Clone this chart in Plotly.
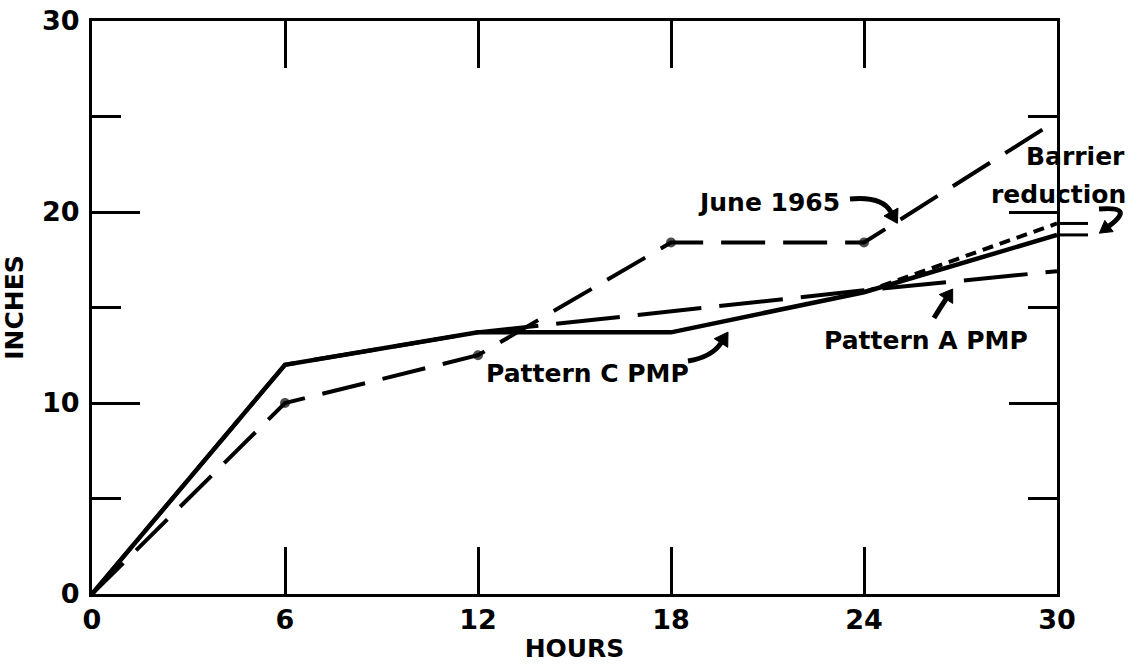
import plotly.graph_objects as go

# Accumulated rainfall (inches) against duration (hours)
hours = [0, 6, 12, 18, 24, 30]
pattern_c_pmp = [0, 12.0, 13.7, 13.7, 15.8, 18.8]
june_1965 = [0, 10.0, 12.5, 18.4, 18.4, 24.8]
pattern_a_hours = [0, 6, 12, 24, 30]
pattern_a_pmp = [0, 12.0, 13.7, 15.9, 16.9]
barrier_hours = [24, 30]
barrier_reduction = [15.8, 19.4]

x_ticks = [0, 6, 12, 18, 24, 30]
y_ticks = [0, 10, 20, 30]
y_minor_ticks = [5, 15, 25]

W, H = 1131, 664
L, R, T, B = 92, 1057, 21, 594
FONT = "DejaVu Sans"
INK = "black"


def P(px, py):
    """Pixel position on the page -> paper coordinates."""
    return (px - L) / (R - L), (B - py) / (B - T)


def arrow(tail, ctrl, end, head_len=13, head_w=8, width=5):
    """Curved arrow: quadratic stroke plus a filled head."""
    dx, dy = end[0] - ctrl[0], end[1] - ctrl[1]
    n = (dx * dx + dy * dy) ** 0.5
    ux, uy = dx / n, dy / n
    tip = (end[0] + ux * head_len, end[1] + uy * head_len)
    b1 = (end[0] - uy * head_w, end[1] + ux * head_w)
    b2 = (end[0] + uy * head_w, end[1] - ux * head_w)
    t, c, e = P(*tail), P(*ctrl), P(*end)
    body = dict(type="path", xref="paper", yref="paper",
                path=f"M {t[0]},{t[1]} Q {c[0]},{c[1]} {e[0]},{e[1]}",
                line=dict(color=INK, width=width))
    p1, p2, p3 = P(*tip), P(*b1), P(*b2)
    head = dict(type="path", xref="paper", yref="paper",
                path=f"M {p1[0]},{p1[1]} L {p2[0]},{p2[1]} L {p3[0]},{p3[1]} Z",
                fillcolor=INK, line=dict(color=INK, width=1))
    return [body, head]


fig = go.Figure()

fig.add_trace(go.Scatter(
    x=pattern_a_hours, y=pattern_a_pmp, mode="lines", name="Pattern A PMP",
    line=dict(color=INK, width=4, dash="64px,18px")))

fig.add_trace(go.Scatter(
    x=hours, y=june_1965, mode="lines+markers", name="June 1965",
    line=dict(color=INK, width=4, dash="44px,18px"),
    marker=dict(color=INK, size=[0, 10, 10, 10, 10, 0],
                line=dict(width=0))))

fig.add_trace(go.Scatter(
    x=barrier_hours, y=barrier_reduction, mode="lines", name="Barrier reduction",
    line=dict(color=INK, width=4, dash="11px,7px")))

fig.add_trace(go.Scatter(
    x=hours, y=pattern_c_pmp, mode="lines", name="Pattern C PMP",
    line=dict(color=INK, width=4.5)))

shapes = []
# bracket stubs for the barrier reduction, right of the frame
for v in (barrier_reduction[-1], pattern_c_pmp[-1]):
    shapes.append(dict(type="line", xref="paper", yref="y",
                       x0=1.0, x1=P(1088, 0)[0], y0=v, y1=v,
                       line=dict(color=INK, width=3)))

shapes += arrow((850, 199), (882, 196), (891, 212))       # June 1965
shapes += arrow((688, 361), (712, 357), (721, 343))       # Pattern C PMP
shapes += arrow((934, 318), (940, 308), (946, 299), head_len=12)  # Pattern A PMP
shapes += arrow((1099, 209), (1136, 206), (1109, 226), head_len=12, head_w=7)  # Barrier

ann_font = dict(family=FONT, size=25, color=INK, weight="bold")
annotations = []
for text, px, py, anchor in [
    ("June 1965", 769, 202, "center"),
    ("Pattern C PMP", 587, 373, "center"),
    ("Pattern A PMP", 926, 340, "center"),
    ("Barrier", 1127, 157, "right"),
    ("reduction", 1128, 194, "right"),
]:
    ax, ay = P(px, py)
    annotations.append(dict(text=text, x=ax, y=ay, xref="paper", yref="paper",
                            xanchor=anchor, yanchor="middle", showarrow=False,
                            font=ann_font))

tick_font = dict(family=FONT, size=27, color=INK, weight="bold")
title_font = dict(family=FONT, size=25, color=INK, weight="bold")

fig.update_layout(
    width=W, height=H,
    margin=dict(l=L, r=W - R, t=T, b=H - B, pad=0),
    paper_bgcolor="white", plot_bgcolor="white",
    showlegend=False,
    shapes=shapes,
    annotations=annotations,
    xaxis=dict(range=[0, 30], tickvals=x_ticks, ticks="inside", ticklen=47,
               tickwidth=3, tickcolor=INK, showline=True, linewidth=3,
               linecolor=INK, mirror="ticks", showgrid=False, zeroline=False,
               tickfont=tick_font, ticklabelstandoff=0, automargin=False,
               title=dict(text="HOURS", font=title_font, standoff=6)),
    yaxis=dict(range=[0, 30], tickvals=y_ticks, ticks="inside", ticklen=48,
               tickwidth=3, tickcolor=INK, showline=True, linewidth=3,
               linecolor=INK, mirror="ticks", showgrid=False, zeroline=False,
               tickfont=tick_font, ticklabelstandoff=4, automargin=False,
               minor=dict(tickvals=y_minor_ticks, ticks="inside", ticklen=29,
                          tickwidth=3, tickcolor=INK, showgrid=False),
               title=dict(text="INCHES", font=title_font, standoff=14)),
)

fig.write_html("out.html")
